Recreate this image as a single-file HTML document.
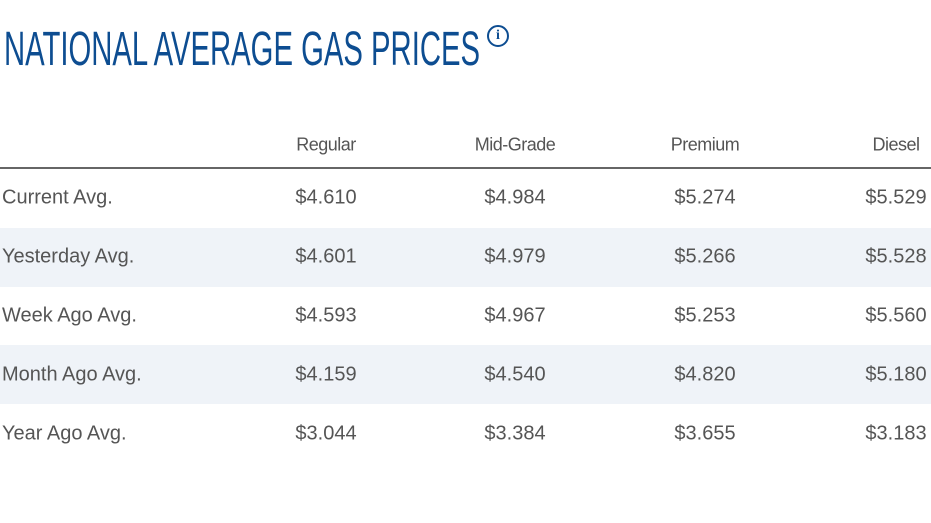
<!DOCTYPE html>
<html><head><meta charset="utf-8"><style>
body{margin:0;width:931px;height:523px;background:#fff;position:relative;overflow:hidden;font-family:"Liberation Sans",sans-serif}
.title{position:absolute;left:4px;top:22px;font-family:"Liberation Sans Narrow","Liberation Sans",sans-serif;font-size:48px;color:#0d4d91;white-space:nowrap;transform-origin:0 0;letter-spacing:0}
.info{position:absolute;left:487px;top:25px;width:22px;height:22px;border:2px solid #0d4d91;border-radius:50%;box-sizing:border-box;color:#0d4d91;font:bold 14px "Liberation Serif",serif;text-align:center;line-height:18px}
.row{position:absolute;left:0;width:931px;height:59px}
.shade{background:#eff3f8}
.cell{position:absolute;font-size:20px;color:#555;transform:translate(-50%,-50%);white-space:nowrap}
.lbl{position:absolute;left:2px;font-size:20px;color:#555;transform:translateY(-50%);white-space:nowrap}
.hdr{position:absolute;font-size:18px;color:#555;transform:translate(-50%,-50%);letter-spacing:-0.5px}
.line{position:absolute;left:0;top:167px;width:931px;height:2px;background:#666}
</style></head><body>
<div class="title" id="title">NATIONAL AVERAGE GAS PRICES</div>
<div class="info">i</div>
<div class="row shade" style="top:228px"></div>
<div class="row shade" style="top:345px"></div>
<div class="line"></div>
<div id="tbl"></div>
<script>
const grades=["Regular","Mid-Grade","Premium","Diesel"];
const rowLabels=["Current Avg.","Yesterday Avg.","Week Ago Avg.","Month Ago Avg.","Year Ago Avg."];
const regular=["$4.610","$4.601","$4.593","$4.159","$3.044"];
const midGrade=["$4.984","$4.979","$4.967","$4.540","$3.384"];
const premium=["$5.274","$5.266","$5.253","$4.820","$3.655"];
const diesel=["$5.529","$5.528","$5.560","$5.180","$3.183"];
const series=[regular,midGrade,premium,diesel];
const colX=[326,515,705,896];
const t=document.getElementById('tbl');
grades.forEach((g,i)=>{
  const d=document.createElement('div');d.className='hdr';
  d.style.left=colX[i]+'px';d.style.top='145px';d.textContent=g;
  
  
  t.appendChild(d);
});
rowLabels.forEach((r,j)=>{
  const y=198+j*59;
  const l=document.createElement('div');l.className='lbl';l.style.top=y+'px';l.textContent=r;
  
  
  t.appendChild(l);
  series.forEach((s,i)=>{
    const c=document.createElement('div');c.className='cell';
    c.style.left=colX[i]+'px';c.style.top=y+'px';c.textContent=s[j];
    
    
    t.appendChild(c);
  });
});
const ti=document.getElementById('title');
const w=ti.getBoundingClientRect().width;
ti.style.transform='scaleX('+(476/w)+')';
</script>
</body></html>
